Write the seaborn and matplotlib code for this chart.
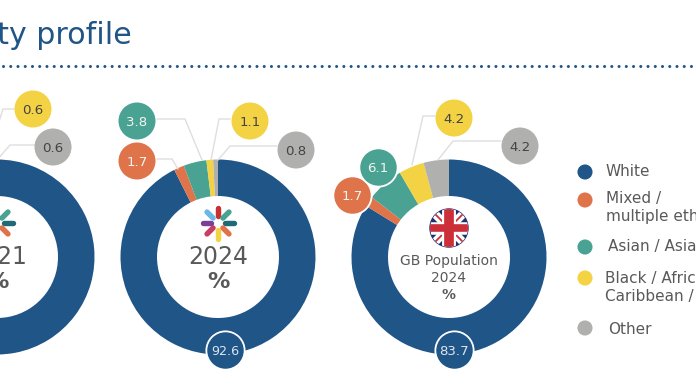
import matplotlib
matplotlib.use("Agg")
import matplotlib.pyplot as plt
import numpy as np
import pandas as pd
import seaborn as sns
from matplotlib.patches import Circle

W, H = 696, 385

categories = ["White", "Mixed", "Asian", "Black", "Other"]
values_2021 = [94.0, 1.6, 3.2, 0.6, 0.6]
values_2024 = [92.6, 1.7, 3.8, 1.1, 0.8]
values_gb = [83.7, 1.7, 6.1, 4.2, 4.2]

legend_labels = [
    "White",
    "Mixed /\nmultiple ethnic groups",
    "Asian / Asian British",
    "Black / African /\nCaribbean / Black British",
    "Other",
]
petal_colours = ["#c8312f", "#4aa392", "#1f6b75", "#e0734a", "#f2d343", "#c93e63", "#7b3f98", "#6bb8e4"]

BLUE = "#205587"
colours = dict(zip(categories, [BLUE, "#df7349", "#4aa392", "#f3d344", "#b0b0ae"]))
TEXT = "#595959"


# Picture coordinates have y going down, the axes have it going up
def py(y):
    return H - y


def draw_donut(ax, values, cx, cy):
    ax.pie(
        values,
        colors=[colours[c] for c in categories],
        center=(cx, py(cy)),
        radius=97.5,
        startangle=90,
        counterclock=False,
        wedgeprops={"width": 36.5, "linewidth": 0},
    )


def draw_leader(ax, points):
    xs = [p[0] for p in points]
    ys = [py(p[1]) for p in points]
    ax.plot(xs, ys, color="#dedede", lw=1, zorder=3, solid_joinstyle="miter")


def draw_bubble(ax, value, category, x, y, edge="none", size=710, fontsize=9.6):
    sns.scatterplot(
        x=[x], y=[py(y)], color=colours[category], s=size, edgecolor=edge,
        linewidth=1.3, legend=False, ax=ax, zorder=5,
    )
    if category in ("Black", "Other"):
        txt = "#444444"
    elif category == "White":
        txt = "#dce6f0"
    else:
        txt = "#f4f4f4"
    ax.text(x, py(y), f"{value}", ha="center", va="center_baseline", color=txt, fontsize=fontsize, zorder=6)


def draw_logo(ax, cx, cy):
    for i, c in enumerate(petal_colours):
        a = np.pi / 2 - i * np.pi / 4
        ax.plot(
            [cx + 7 * np.cos(a), cx + 15.5 * np.cos(a)],
            [py(cy) + 7 * np.sin(a), py(cy) + 15.5 * np.sin(a)],
            color=c, lw=3.9, solid_capstyle="round", zorder=4,
        )


def draw_flag(ax, cx, cy, r):
    y0 = py(cy)
    clip = Circle((cx, y0), r, transform=ax.transData)
    ax.add_patch(Circle((cx, y0), r, color="#24306e", zorder=4))
    parts = []
    for d, col, lw in [(1, "white", 6), (-1, "white", 6), (1, "#cc2f3a", 1.3), (-1, "#cc2f3a", 1.3)]:
        parts.append(([cx - r, cx + r], [y0 - d * r, y0 + d * r], col, lw))
    parts.append(([cx - r, cx + r], [y0, y0], "white", 9))
    parts.append(([cx, cx], [y0 - r, y0 + r], "white", 10))
    parts.append(([cx - r, cx + r], [y0, y0], "#cc2f3a", 5.5))
    parts.append(([cx, cx], [y0 - r, y0 + r], "#cc2f3a", 7))
    for xs, ys, col, lw in parts:
        line, = ax.plot(xs, ys, color=col, lw=lw, zorder=4, solid_capstyle="butt")
        line.set_clip_path(clip)


sns.set_theme(style="white")
plt.rcParams["font.family"] = ["DejaVu Sans"]

fig = plt.figure(figsize=(W / 100, H / 100), dpi=100)
ax = fig.add_axes([0, 0, 1, 1])

draw_donut(ax, values_2021, -3, 257)
draw_donut(ax, values_2024, 218, 257)
draw_donut(ax, values_gb, 449, 257)

# title and dotted rule
ax.text(132, py(44), "Ethnicity profile", ha="right", va="baseline", color=BLUE, fontsize=21.6)
ax.plot([3, W], [py(66), py(66)], color=BLUE, lw=2.2, linestyle=(0, (0.01, 2.36)), dash_capstyle="round")

# leader lines
draw_leader(ax, [(14, 109), (3, 109), (-10, 150)])
draw_leader(ax, [(35, 145), (10, 145), (-3, 160)])
draw_leader(ax, [(157, 119), (185, 119), (202, 160)])
draw_leader(ax, [(157, 159), (172, 159), (178, 169)])
draw_leader(ax, [(230, 119), (219, 119), (211, 160)])
draw_leader(ax, [(277, 146), (230, 146), (218, 160)])
draw_leader(ax, [(435, 116), (423, 116), (412, 165)])
draw_leader(ax, [(501, 141), (453, 141), (438, 160)])

# value bubbles
draw_bubble(ax, values_2021[3], "Black", 33, 109)
draw_bubble(ax, values_2021[4], "Other", 53, 147)
draw_bubble(ax, values_2024[2], "Asian", 137, 121)
draw_bubble(ax, values_2024[1], "Mixed", 137, 161)
draw_bubble(ax, values_2024[3], "Black", 250, 121)
draw_bubble(ax, values_2024[4], "Other", 296, 150)
draw_bubble(ax, values_2024[0], "White", 225, 350, edge="white", size=760, fontsize=9.2)
draw_bubble(ax, values_gb[1], "Mixed", 352, 195, edge="white", size=760)
draw_bubble(ax, values_gb[2], "Asian", 378, 167, edge="white", size=760)
draw_bubble(ax, values_gb[3], "Black", 454, 118)
draw_bubble(ax, values_gb[4], "Other", 520, 146)
draw_bubble(ax, values_gb[0], "White", 454, 350, edge="white", size=760, fontsize=9.6)

# centres
draw_logo(ax, -3, 223)
draw_logo(ax, 218, 223)
draw_flag(ax, 449, 228, 19)
ax.text(-3, py(257), "2021", ha="center", va="center", color=TEXT, fontsize=17)
ax.text(-3, py(282), "%", ha="center", va="center", color=TEXT, fontsize=16, fontweight="bold")
ax.text(218, py(257), "2024", ha="center", va="center", color=TEXT, fontsize=17)
ax.text(218, py(282), "%", ha="center", va="center", color=TEXT, fontsize=16, fontweight="bold")
ax.text(449, py(261), "GB Population", ha="center", va="center", color=TEXT, fontsize=10)
ax.text(449, py(278), "2024", ha="center", va="center", color=TEXT, fontsize=10)
ax.text(449, py(295), "%", ha="center", va="center", color=TEXT, fontsize=10, fontweight="bold")

# legend
legend_df = pd.DataFrame({
    "category": categories,
    "x": [585] * 5,
    "y": [py(v) for v in [172, 200, 247, 278, 328]],
})
sns.scatterplot(
    data=legend_df, x="x", y="y", hue="category", palette=colours, s=118,
    linewidth=0, legend=False, ax=ax,
)
ax.text(605, py(171), legend_labels[0], va="center", color=TEXT, fontsize=11)
ax.text(606, py(208), legend_labels[1], va="center", color=TEXT, fontsize=11, linespacing=1.25)
ax.text(608, py(247), legend_labels[2], va="center", color=TEXT, fontsize=11)
ax.text(605, py(287), legend_labels[3], va="center", color=TEXT, fontsize=11, linespacing=1.25)
ax.text(608, py(330), legend_labels[4], va="center", color=TEXT, fontsize=11)

ax.set_xlim(0, W)
ax.set_ylim(0, H)
ax.set_aspect("auto")
ax.set_xlabel("")
ax.set_ylabel("")
ax.axis("off")

fig.savefig("out.png", dpi=100)
